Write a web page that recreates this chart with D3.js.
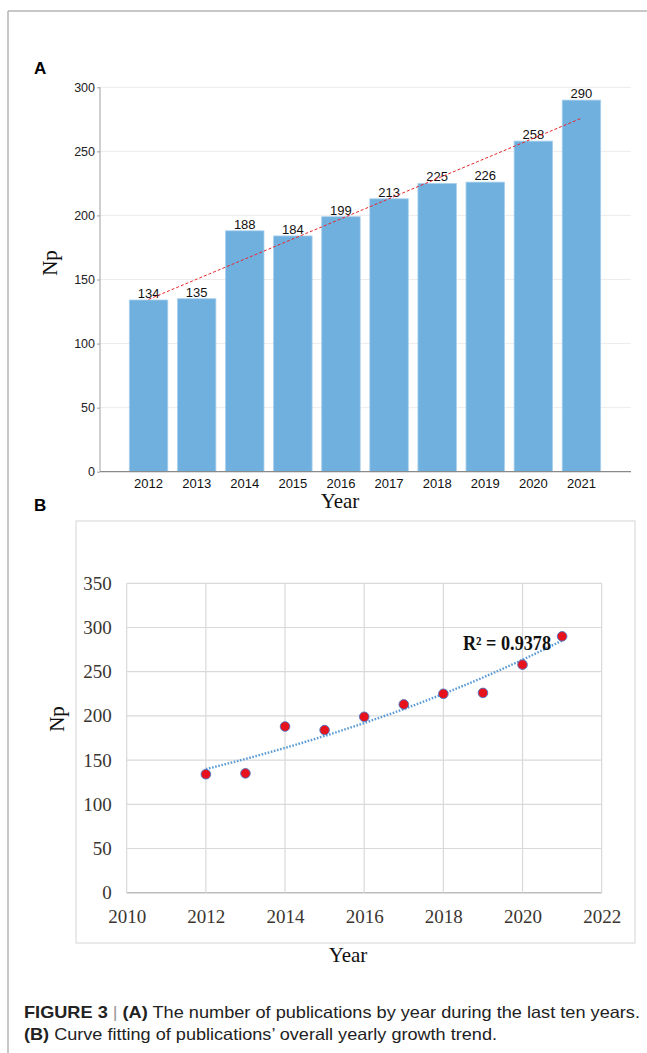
<!DOCTYPE html>
<html><head><meta charset="utf-8">
<script src="https://cdnjs.cloudflare.com/ajax/libs/d3/7.8.5/d3.min.js"></script>
<style>html,body{margin:0;padding:0;background:#fff;}svg{display:block;}</style>
</head><body>
<script>
const years = [2012,2013,2014,2015,2016,2017,2018,2019,2020,2021];
const publications = [134,135,188,184,199,213,225,226,258,290];
const yTicksA = [0,50,100,150,200,250,300];
const xTicksB = [2010,2012,2014,2016,2018,2020,2022];
const yTicksB = [0,50,100,150,200,250,300,350];
const r2Label = "R² = 0.9378";
const captionLine1 = ["FIGURE 3", " | ", "(A)", " The number of publications by year during the last ten years."];
const captionLine2 = ["(B)", " Curve fitting of publications’ overall yearly growth trend."];

const W = 647, H = 1053;
const svg = d3.select("body").append("svg").attr("width", W).attr("height", H);
const sans = "'Liberation Sans', Arial, sans-serif";
const serif = "'Liberation Serif', 'Times New Roman', serif";

// outer frame (top + left)
svg.append("line").attr("x1",8).attr("x2",W).attr("y1",11).attr("y2",11).attr("stroke","#b5b5b5").attr("stroke-width",1.5);
svg.append("line").attr("x1",8).attr("x2",8).attr("y1",11).attr("y2",H).attr("stroke","#b5b5b5").attr("stroke-width",1.5);

// ---------- Panel A ----------
svg.append("text").attr("x",34).attr("y",74).attr("font-family",sans).attr("font-weight","bold").attr("font-size",17).text("A");

const xA = d3.scaleBand().domain(years).range([124.5,605.5]).paddingInner(0.2).paddingOuter(0.1);
const yA = d3.scaleLinear().domain([0,300]).range([471.7,87.3]);
const gA = svg.append("g");

gA.selectAll(".grid").data(yTicksA.filter(d=>d>0)).enter().append("line")
  .attr("x1",100).attr("x2",631).attr("y1",d=>yA(d)).attr("y2",d=>yA(d))
  .attr("stroke","#ececec").attr("stroke-width",1);

gA.selectAll(".bar").data(publications).enter().append("rect")
  .attr("x",(d,i)=>xA(years[i])).attr("width",xA.bandwidth())
  .attr("y",d=>yA(d)).attr("height",d=>yA(0)-yA(d))
  .attr("fill","#70b0de").attr("stroke","#a9d0ee").attr("stroke-width",0.8);

const axA = d3.axisLeft(yA).tickValues(yTicksA).tickSize(3).tickPadding(2);
const gyA = gA.append("g").attr("transform","translate(100,0)").call(axA);
gyA.select(".domain").attr("stroke","#a0a0a0").attr("d","M0,87.3V471.7");
gyA.selectAll(".tick line").attr("stroke","#a0a0a0");
gyA.selectAll("text").attr("font-family",sans).attr("font-size",12.5).attr("fill","#222");

gA.append("line").attr("x1",100).attr("x2",631).attr("y1",yA(0)).attr("y2",yA(0)).attr("stroke","#8a8a8a").attr("stroke-width",1.2);

const axXA = d3.axisBottom(xA).tickSize(0).tickPadding(7);
const gxA = gA.append("g").attr("transform",`translate(0,${yA(0)})`).call(axXA);
gxA.select(".domain").remove();
gxA.selectAll("text").attr("font-family",sans).attr("font-size",13).attr("fill","#111");

gA.selectAll(".val").data(publications).enter().append("text")
  .attr("x",(d,i)=>xA(years[i])+xA.bandwidth()/2).attr("y",d=>yA(d)-2)
  .attr("text-anchor","middle").attr("font-family",sans).attr("font-size",13).attr("fill","#111")
  .text(d=>d);

// linear trend (least squares from data)
const n = years.length;
const idx = years.map((d,i)=>i);
const mx = d3.mean(idx), my = d3.mean(publications);
const slope = d3.sum(idx,(d,i)=>(d-mx)*(publications[i]-my))/d3.sum(idx,d=>(d-mx)*(d-mx));
const icpt = my - slope*mx;
gA.append("line")
  .attr("x1",xA(years[0])+xA.bandwidth()/2).attr("y1",yA(icpt))
  .attr("x2",xA(years[n-1])+xA.bandwidth()/2).attr("y2",yA(icpt+slope*(n-1)))
  .attr("stroke","#e8262a").attr("stroke-width",1).attr("stroke-dasharray","3,2");

svg.append("text").attr("transform","translate(57,263) rotate(-90)").attr("text-anchor","middle")
  .attr("font-family",serif).attr("font-size",21).attr("fill","#111").text("Np");
svg.append("text").attr("x",340).attr("y",508).attr("text-anchor","middle")
  .attr("font-family",serif).attr("font-size",21).attr("fill","#111").text("Year");

// ---------- Panel B ----------
svg.append("text").attr("x",34).attr("y",511).attr("font-family",sans).attr("font-weight","bold").attr("font-size",17).text("B");
svg.append("rect").attr("x",76).attr("y",521).attr("width",559).attr("height",422)
  .attr("fill","#fff").attr("stroke","#dcdcdc").attr("stroke-width",1.2);

const xB = d3.scaleLinear().domain([2010,2022]).range([126.7,601.7]);
const yB = d3.scaleLinear().domain([0,350]).range([892.7,583.3]);
const gB = svg.append("g");

gB.selectAll(".hg").data(yTicksB).enter().append("line")
  .attr("x1",xB(2010)).attr("x2",xB(2022)).attr("y1",d=>yB(d)).attr("y2",d=>yB(d))
  .attr("stroke",d=>d===0?"#bdbdbd":"#d9d9d9").attr("stroke-width",d=>d===0?1.5:1.2);
gB.selectAll(".vg").data(xTicksB).enter().append("line")
  .attr("x1",d=>xB(d)).attr("x2",d=>xB(d)).attr("y1",yB(0)).attr("y2",yB(350))
  .attr("stroke","#d9d9d9").attr("stroke-width",1.2);

const gyB = gB.append("g").attr("transform",`translate(${xB(2010)},0)`)
  .call(d3.axisLeft(yB).tickValues(yTicksB).tickSize(0).tickPadding(15));
gyB.select(".domain").remove();
gyB.selectAll("text").attr("font-family",serif).attr("font-size",19).attr("fill","#3a3530");

const gxB = gB.append("g").attr("transform",`translate(0,${yB(0)})`)
  .call(d3.axisBottom(xB).tickValues(xTicksB).tickFormat(d3.format("d")).tickSize(0).tickPadding(17));
gxB.select(".domain").remove();
gxB.selectAll("text").attr("font-family",serif).attr("font-size",19).attr("fill","#3a3530");

// exponential trend fitted from data
const lnY = publications.map(v=>Math.log(v));
const mlx = d3.mean(years), mly = d3.mean(lnY);
const eb = d3.sum(years,(d,i)=>(d-mlx)*(lnY[i]-mly))/d3.sum(years,d=>(d-mlx)*(d-mlx));
const ea = mly - eb*mlx;
const trendPts = years.map(yr=>[yr, Math.exp(ea+eb*yr)]);
gB.append("path").datum(trendPts)
  .attr("d",d3.line().x(d=>xB(d[0])).y(d=>yB(d[1])).curve(d3.curveMonotoneX))
  .attr("fill","none").attr("stroke","#5b9bd5").attr("stroke-width",2.4).attr("stroke-dasharray","1.6,1.6");

gB.selectAll(".pt").data(publications).enter().append("circle")
  .attr("cx",(d,i)=>xB(years[i])).attr("cy",d=>yB(d)).attr("r",4.8)
  .attr("fill","#e8121c").attr("stroke","#4a76c4").attr("stroke-width",0.9);

gB.append("text").attr("x",463).attr("y",650).attr("font-family",serif).attr("font-weight","bold")
  .attr("font-size",20).attr("fill","#111").attr("textLength",88).attr("lengthAdjust","spacingAndGlyphs").text(r2Label);

svg.append("text").attr("transform","translate(64,719) rotate(-90)").attr("text-anchor","middle")
  .attr("font-family",serif).attr("font-size",21).attr("fill","#111").text("Np");
svg.append("text").attr("x",348).attr("y",962).attr("text-anchor","middle")
  .attr("font-family",serif).attr("font-size",21).attr("fill","#111").text("Year");

// ---------- Caption ----------
const capFont = "'Liberation Sans Narrow', 'Liberation Sans', Arial, sans-serif";
const c1 = svg.append("text").attr("x",24).attr("y",1018).attr("font-family",capFont).attr("font-size",16.5)
  .attr("fill","#222").attr("textLength",616).attr("lengthAdjust","spacingAndGlyphs");
captionLine1.forEach((s,i)=>{
  c1.append("tspan").text(s)
    .attr("font-weight",(i===0||i===2)?"bold":"normal")
    .attr("fill",i===1?"#999":"#222");
});
const c2 = svg.append("text").attr("x",24).attr("y",1040).attr("font-family",capFont).attr("font-size",16.5)
  .attr("fill","#222").attr("textLength",473).attr("lengthAdjust","spacingAndGlyphs");
captionLine2.forEach((s,i)=>{
  c2.append("tspan").text(s).attr("font-weight",i===0?"bold":"normal");
});
</script>
</body></html>
